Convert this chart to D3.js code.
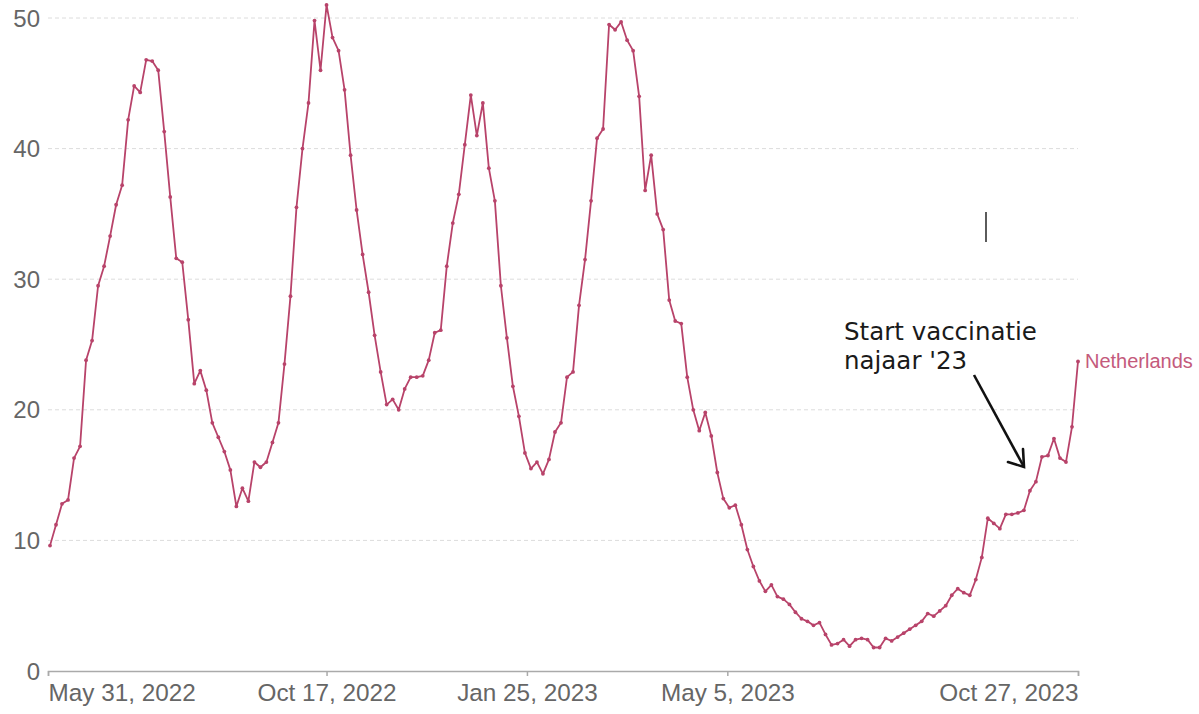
<!DOCTYPE html>
<html>
<head>
<meta charset="utf-8">
<script src="https://cdn.jsdelivr.net/npm/d3@7"></script>
<style>
  body { margin: 0; background: #fff; }
  svg { display: block; }
</style>
</head>
<body>
<script>
// chart data (one value every 3 days from Jun 1 2022)
var startDate = new Date(2022, 5, 1),
	stepDays = 3;

var values = [
	9.6, 11.2, 12.8, 13.1, 16.3, 17.2, 23.8, 25.3, 29.5, 31.0,
	33.3, 35.7, 37.2, 42.2, 44.8, 44.3, 46.8, 46.7, 46.0, 41.3,
	36.3, 31.6, 31.3, 26.9, 22.0, 23.0, 21.5, 19.0, 17.9, 16.8,
	15.4, 12.6, 14.0, 13.0, 16.0, 15.6, 16.0, 17.5, 19.0, 23.5,
	28.7, 35.5, 40.0, 43.5, 49.8, 46.0, 51.0, 48.5, 47.5, 44.5,
	39.5, 35.3, 31.9, 29.0, 25.7, 22.9, 20.4, 20.8, 20.0, 21.6,
	22.5, 22.5, 22.6, 23.8, 25.9, 26.1, 31.0, 34.3, 36.5, 40.3,
	44.1, 41.0, 43.5, 38.5, 36.0, 29.5, 25.5, 21.8, 19.5, 16.7,
	15.5, 16.0, 15.1, 16.2, 18.3, 19.0, 22.5, 22.9, 28.0, 31.5,
	36.0, 40.8, 41.5, 49.5, 49.1, 49.7, 48.3, 47.5, 44.0, 36.8,
	39.5, 35.0, 33.8, 28.4, 26.8, 26.6, 22.5, 20.0, 18.4, 19.8,
	18.0, 15.2, 13.2, 12.5, 12.7, 11.2, 9.3, 8.0, 6.9, 6.1,
	6.6, 5.7, 5.5, 5.1, 4.5, 4.0, 3.8, 3.5, 3.7, 2.8,
	2.0, 2.1, 2.4, 1.9, 2.4, 2.5, 2.4, 1.8, 1.8, 2.5,
	2.3, 2.6, 2.9, 3.2, 3.5, 3.8, 4.4, 4.2, 4.6, 5.0,
	5.8, 6.3, 6.0, 5.8, 7.0, 8.7, 11.7, 11.3, 10.9, 12.0,
	12.0, 12.1, 12.3, 13.8, 14.5, 16.4, 16.5, 17.8, 16.3, 16.0,
	18.7, 23.7
];

var seriesName = "Netherlands";
var yTicks = [0, 10, 20, 30, 40, 50];
var xTicks = [
	new Date(2022, 4, 31),
	new Date(2022, 9, 17),
	new Date(2023, 0, 25),
	new Date(2023, 4, 5),
	new Date(2023, 9, 27)
];
var annotationLines = ["Start vaccinatie", "najaar '23"];

//set size of viewport
var width = 1199,
	height = 714;

var lineColor = "#b8436a",
	labelColor = "#c45a7c",
	axisColor = "#666";

var data = values.map(function(v, i){
	return {date: d3.timeDay.offset(startDate, i * stepDays), value: v};
});

var svg = d3.select("body")
	.append("svg")
	.attr("width", width)
	.attr("height", height);

var x = d3.scaleTime()
	.domain([xTicks[0], xTicks[xTicks.length - 1]])
	.range([48, 1078]);

var y = d3.scaleLinear()
	.domain([0, 50])
	.range([671, 18]);

//gridlines
svg.append("g")
	.selectAll("line")
	.data(yTicks.filter(function(d){ return d > 0; }))
	.enter()
	.append("line")
	.attr("x1", x.range()[0])
	.attr("x2", x.range()[1])
	.attr("y1", function(d){ return y(d); })
	.attr("y2", function(d){ return y(d); })
	.attr("stroke", "#dcdcdc")
	.attr("stroke-width", 1)
	.attr("stroke-dasharray", "4,3");

//y labels
svg.append("g")
	.selectAll("text")
	.data(yTicks)
	.enter()
	.append("text")
	.attr("x", 40)
	.attr("y", function(d){ return y(d); })
	.attr("dy", "0.36em")
	.attr("text-anchor", "end")
	.attr("font-family", "Liberation Sans, Arial, sans-serif")
	.attr("font-size", 24)
	.attr("fill", axisColor)
	.text(function(d){ return d; });

//x axis
var fmt = d3.timeFormat("%b %-d, %Y");
var xAxis = svg.append("g")
	.attr("transform", "translate(0," + y(0) + ")")
	.call(d3.axisBottom(x).tickValues(xTicks).tickSize(5).tickFormat(fmt));

xAxis.select(".domain").attr("stroke", "#aaa").attr("stroke-width", 1.5);
xAxis.selectAll(".tick line").attr("stroke", "#aaa").attr("stroke-width", 1.5);
xAxis.selectAll(".tick text")
	.attr("font-family", "Liberation Sans, Arial, sans-serif")
	.attr("font-size", 24.3)
	.attr("fill", axisColor)
	.attr("y", 13)
	.attr("dy", "0.71em")
	.attr("text-anchor", function(d, i){
		if (i == 0) return "start";
		if (i == xTicks.length - 1) return "end";
		return "middle";
	});

//series line
var line = d3.line()
	.x(function(d){ return x(d.date); })
	.y(function(d){ return y(d.value); });

svg.append("path")
	.datum(data)
	.attr("fill", "none")
	.attr("stroke", lineColor)
	.attr("stroke-width", 1.8)
	.attr("stroke-linejoin", "round")
	.attr("d", line);

svg.append("g")
	.selectAll("circle")
	.data(data)
	.enter()
	.append("circle")
	.attr("cx", function(d){ return x(d.date); })
	.attr("cy", function(d){ return y(d.value); })
	.attr("r", 1.9)
	.attr("fill", lineColor);

//series label at the end of the line
var last = data[data.length - 1];
svg.append("text")
	.attr("x", x(last.date) + 7)
	.attr("y", y(last.value))
	.attr("dy", "0.35em")
	.attr("font-family", "Liberation Sans, Arial, sans-serif")
	.attr("font-size", 20)
	.attr("fill", labelColor)
	.text(seriesName);

//annotation
var note = svg.append("text")
	.attr("font-family", "DejaVu Sans, sans-serif")
	.attr("font-size", 24.5)
	.attr("fill", "#1a1a1a");
note.selectAll("tspan")
	.data(annotationLines)
	.enter()
	.append("tspan")
	.attr("x", 844)
	.attr("y", function(d, i){ return 340 + i * 29; })
	.text(function(d){ return d; });

var tip = [1024, 467];
svg.append("line")
	.attr("x1", 974).attr("y1", 375)
	.attr("x2", tip[0]).attr("y2", tip[1])
	.attr("stroke", "#111")
	.attr("stroke-width", 2.6);
svg.append("path")
	.attr("d", "M1008,462 L" + tip[0] + "," + tip[1] + " L1023,449")
	.attr("fill", "none")
	.attr("stroke", "#111")
	.attr("stroke-width", 2.6)
	.attr("stroke-linecap", "round")
	.attr("stroke-linejoin", "miter");

//text cursor seen in the picture
svg.append("line")
	.attr("x1", 986).attr("y1", 212)
	.attr("x2", 986).attr("y2", 242)
	.attr("stroke", "#333")
	.attr("stroke-width", 1.6);
</script>
</body>
</html>
